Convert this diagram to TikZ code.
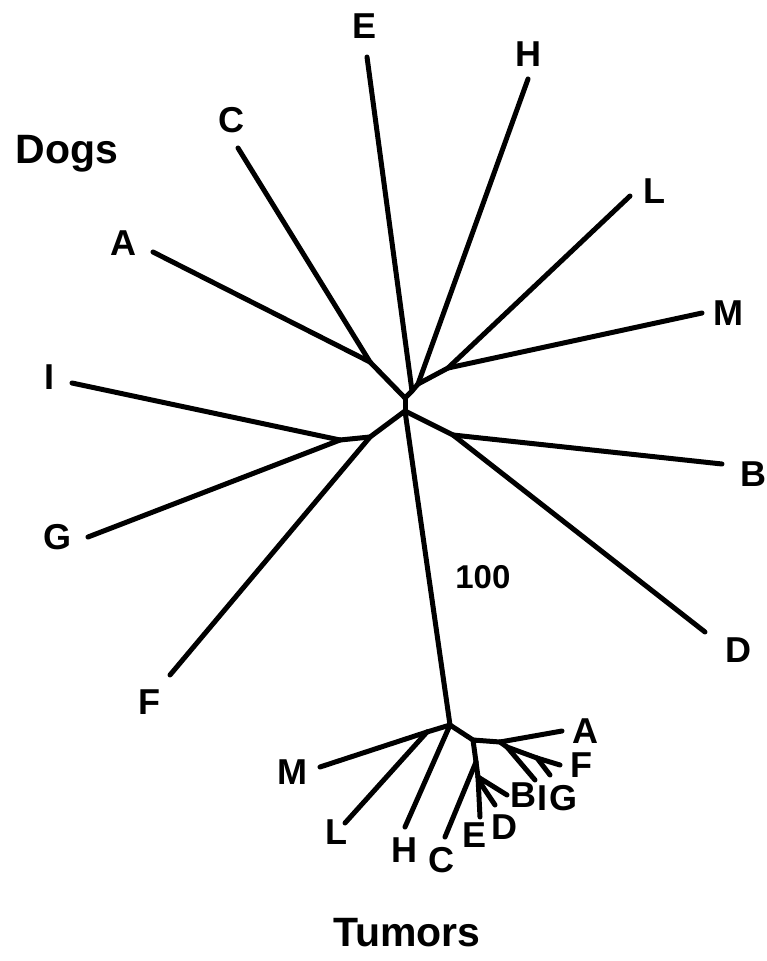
\documentclass[tikz,border=0pt]{standalone}
\usepackage{fontspec}
\setmainfont{Liberation Sans}
\usetikzlibrary{positioning}

\tikzset{
	leaf/.style={font=\fontsize{36}{40}\selectfont\bfseries, inner sep=0pt},
	group/.style={font=\fontsize{41}{48}\selectfont\bfseries, inner sep=0pt},
	boot/.style={font=\fontsize{33}{38}\selectfont\bfseries, inner sep=0pt}
}

\begin{document}
\begin{tikzpicture}[x=1pt,y=-1pt,every edge/.append style={line width=5pt,line cap=round}]
	\useasboundingbox (0,0) rectangle (767,961);

	% dogs
	\coordinate (d1) at (405,398);
	\coordinate (d2) at (405,411);
	\coordinate (d3) at (412,391);
	\coordinate (dAC) at (370,362);
	\coordinate (dHLM) at (418,384);
	\coordinate (dLM) at (448,368);
	\coordinate (dIGF) at (370,437);
	\coordinate (dIG) at (340,440);
	\coordinate (dBD) at (453,435);
	\coordinate (dA) at (153,252);
	\coordinate (dC) at (238,148);
	\coordinate (dE) at (367,57);
	\coordinate (dH) at (528,79);
	\coordinate (dL) at (630,196);
	\coordinate (dM) at (702,313);
	\coordinate (dI) at (72,383);
	\coordinate (dG) at (88,537);
	\coordinate (dF) at (170,675);
	\coordinate (dB) at (722,464);
	\coordinate (dD) at (705,632);

	% tumors
	\coordinate (t0) at (450,725);
	\coordinate (tML) at (427,732);
	\coordinate (tR1) at (473,740);
	\coordinate (tR2) at (500,742);
	\coordinate (tR3) at (507,747);
	\coordinate (tR4) at (537,758);
	\coordinate (tL1) at (476,762);
	\coordinate (tL2) at (478,777);
	\coordinate (tL3) at (483,787);
	\coordinate (tM) at (320,767);
	\coordinate (tL) at (345,823);
	\coordinate (tH) at (405,827);
	\coordinate (tC) at (445,837);
	\coordinate (tE) at (480,817);
	\coordinate (tD) at (495,805);
	\coordinate (tB) at (507,795);
	\coordinate (tI) at (535,780);
	\coordinate (tG) at (550,775);
	\coordinate (tF) at (560,765);
	\coordinate (tA) at (562,731);

	\path(d1)
	edge (d2)
	edge (dAC)
	edge (d3);

	\path(dAC)
	edge (dA)
	edge (dC);

	\path(d3)
	edge (dE)
	edge (dHLM);

	\path(dHLM)
	edge (dH)
	edge (dLM);

	\path(dLM)
	edge (dL)
	edge (dM);

	\path(d2)
	edge (dIGF)
	edge (dBD)
	edge node[boot, pos=0.53, right=24pt] (nboot) {100} (t0);

	\path(dIGF)
	edge (dIG)
	edge (dF);

	\path(dIG)
	edge (dI)
	edge (dG);

	\path(dBD)
	edge (dB)
	edge (dD);

	\path(t0)
	edge (tML)
	edge (tH)
	edge (tR1);

	\path(tML)
	edge (tM)
	edge (tL);

	\path(tR1)
	edge (tR2)
	edge (tL1);

	\path(tR2)
	edge (tA)
	edge (tR3);

	\path(tR3)
	edge (tI)
	edge (tR4);

	\path(tR4)
	edge (tF)
	edge (tG);

	\path(tL1)
	edge (tC)
	edge (tL2);

	\path(tL2)
	edge (tE)
	edge (tB)
	edge (tL3);

	\path(tL3) edge (tD);

	% labels of the dogs
	\node[leaf] (nE) [above=18pt of dE, xshift=-2pt] {E};
	\node[leaf] (nC) [above=15pt of dC, xshift=-7pt] {C};
	\node[leaf] (nA) [left=16pt of dA, yshift=9pt] {A};
	\node[leaf] (nI) [left=17pt of dI, yshift=6pt] {I};
	\node[leaf] (nG) [left=16pt of dG] {G};
	\node[leaf] (nF) [below=15pt of dF, xshift=-21pt] {F};
	\node[leaf] (nH) [above=12pt of dH] {H};
	\node[leaf] (nL) [right=13pt of dL, yshift=5pt] {L};
	\node[leaf] (nM) [right=11pt of dM] {M};
	\node[leaf] (nB) [right=18pt of dB, yshift=-10pt] {B};
	\node[leaf] (nD) [right=20pt of dD, yshift=-18pt] {D};

	% labels of the tumors
	\node[leaf] (mM) [left=12pt of tM, yshift=-5pt] {M};
	\node[leaf] (mL) [below=-3pt of tL, xshift=-9pt] {L};
	\node[leaf] (mH) [below=11pt of tH, xshift=-1pt] {H};
	\node[leaf] (mC) [below=10pt of tC, xshift=-4pt] {C};
	\node[leaf] (mE) [below=6pt of tE, xshift=-5pt] {E};
	\node[leaf] (mD) [below=10pt of tD, xshift=9pt] {D};
	\node[leaf] (mB) [right=3pt of tB] {B};
	\node[leaf] (mI) [below=6pt of tI, xshift=7pt] {I};
	\node[leaf] (mG) [below=10pt of tG, xshift=13pt] {G};
	\node[leaf] (mF) [right=10pt of tF] {F};
	\node[leaf] (mA) [right=10pt of tA] {A};

	\node[group, anchor=base] (dogs) at (67,163) {Dogs};
	\node[group, anchor=base] (tumors) at (407,946) {Tumors};
\end{tikzpicture}
\end{document}
